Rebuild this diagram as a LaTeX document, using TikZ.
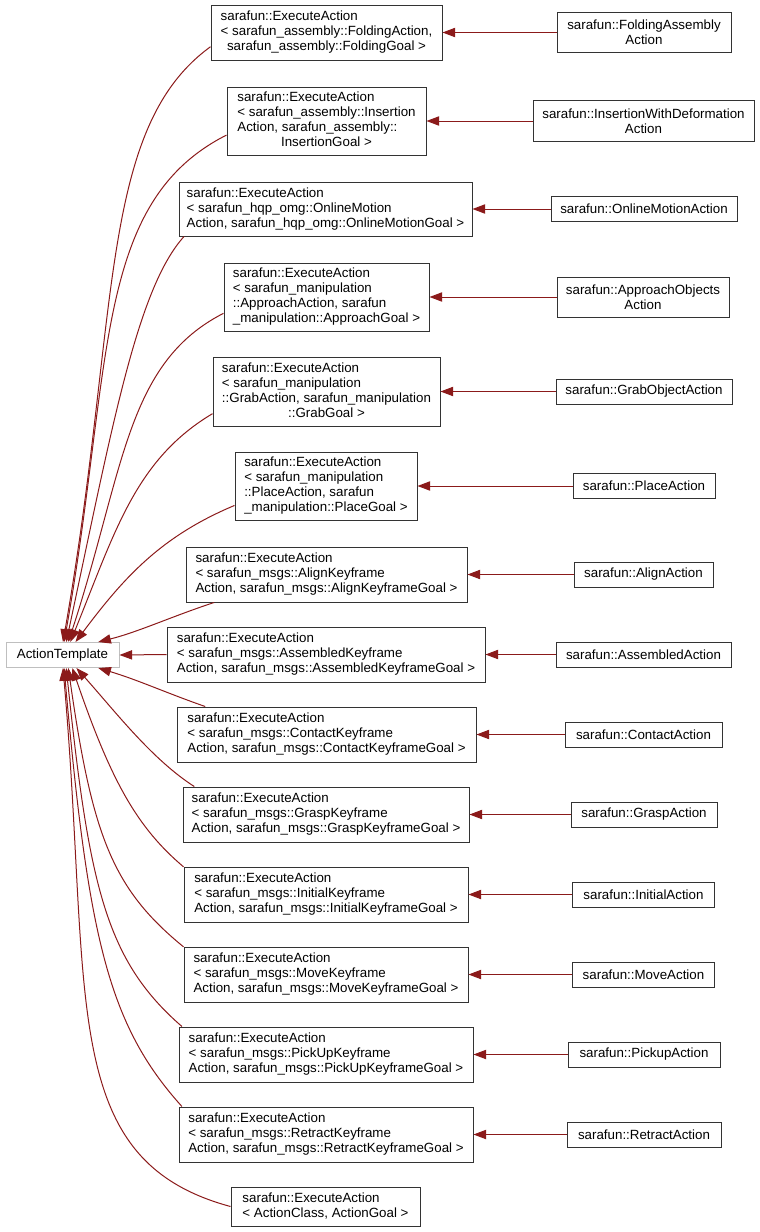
\documentclass[tikz,border=0pt]{standalone}
\usepackage{fontspec}
\setmainfont{Liberation Sans}
\usepackage{xcolor}
\usetikzlibrary{arrows.meta}
\definecolor{edgered}{HTML}{8B1A1A}
\definecolor{basegray}{HTML}{BFBFBF}
\newdimen\px \px=0.75pt
\newcommand{\cls}[1]{\begin{tabular}{@{}l@{}}#1\end{tabular}}
\newcommand{\lastline}[1]{\multicolumn{1}{@{}c@{}}{#1}}

\begin{document}
\begin{tikzpicture}[x=0.75pt, y=-0.75pt, font=\fontsize{10}{11.25}\selectfont,
    inner sep=0pt, line width=1\px,
    cls/.style={draw=black!80, fill=white},
    sub/.style={draw=black!80, fill=white, align=center, minimum height=25\px},
    base/.style={draw=basegray, fill=white, minimum height=25\px},
    inh/.style={draw=edgered, -{Triangle[length=9.5pt, width=7pt, fill=edgered]}}]
    \useasboundingbox (0,0) rectangle (760,1232);
    \node[base, minimum width=113\px] (at) at (62.5,655) {ActionTemplate};
    % template instances
    \node[cls, minimum width=231\px, minimum height=55\px] (m1) at (326.5,32.5)
      {\cls{sarafun::ExecuteAction\\ < sarafun\_assembly::FoldingAction,\\
        \lastline{sarafun\_assembly::FoldingGoal >}}};
    \node[cls, minimum width=199\px, minimum height=68\px] (m2) at (326.5,121)
      {\cls{sarafun::ExecuteAction\\ < sarafun\_assembly::Insertion\\
        Action, sarafun\_assembly::\\ \lastline{InsertionGoal >}}};
    \node[cls, minimum width=293\px, minimum height=54\px] (m3) at (325.5,209)
      {\cls{sarafun::ExecuteAction\\ < sarafun\_hqp\_omg::OnlineMotion\\
        Action, sarafun\_hqp\_omg::OnlineMotionGoal >}};
    \node[cls, minimum width=205\px, minimum height=68\px] (m4) at (326.5,297)
      {\cls{sarafun::ExecuteAction\\ < sarafun\_manipulation\\
        ::ApproachAction, sarafun\\ \_manipulation::ApproachGoal >}};
    \node[cls, minimum width=227\px, minimum height=69\px] (m5) at (326.5,391.5)
      {\cls{sarafun::ExecuteAction\\ < sarafun\_manipulation\\
        ::GrabAction, sarafun\_manipulation\\ \lastline{::GrabGoal >}}};
    \node[cls, minimum width=182\px, minimum height=68\px] (m6) at (326,486)
      {\cls{sarafun::ExecuteAction\\ < sarafun\_manipulation\\
        ::PlaceAction, sarafun\\ \_manipulation::PlaceGoal >}};
    \node[cls, minimum width=281\px, minimum height=55\px] (m7) at (326.5,574.5)
      {\cls{sarafun::ExecuteAction\\ < sarafun\_msgs::AlignKeyframe\\
        Action, sarafun\_msgs::AlignKeyframeGoal >}};
    \node[cls, minimum width=318\px, minimum height=55\px] (m8) at (326,654.5)
      {\cls{sarafun::ExecuteAction\\ < sarafun\_msgs::AssembledKeyframe\\
        Action, sarafun\_msgs::AssembledKeyframeGoal >}};
    \node[cls, minimum width=299\px, minimum height=55\px] (m9) at (326.5,734.5)
      {\cls{sarafun::ExecuteAction\\ < sarafun\_msgs::ContactKeyframe\\
        Action, sarafun\_msgs::ContactKeyframeGoal >}};
    \node[cls, minimum width=286\px, minimum height=55\px] (m10) at (326,814.5)
      {\cls{sarafun::ExecuteAction\\ < sarafun\_msgs::GraspKeyframe\\
        Action, sarafun\_msgs::GraspKeyframeGoal >}};
    \node[cls, minimum width=284\px, minimum height=55\px] (m11) at (326,894.5)
      {\cls{sarafun::ExecuteAction\\ < sarafun\_msgs::InitialKeyframe\\
        Action, sarafun\_msgs::InitialKeyframeGoal >}};
    \node[cls, minimum width=284\px, minimum height=55\px] (m12) at (326,974.5)
      {\cls{sarafun::ExecuteAction\\ < sarafun\_msgs::MoveKeyframe\\
        Action, sarafun\_msgs::MoveKeyframeGoal >}};
    \node[cls, minimum width=294\px, minimum height=55\px] (m13) at (326,1054.5)
      {\cls{sarafun::ExecuteAction\\ < sarafun\_msgs::PickUpKeyframe\\
        Action, sarafun\_msgs::PickUpKeyframeGoal >}};
    \node[cls, minimum width=294\px, minimum height=55\px] (m14) at (326,1134.5)
      {\cls{sarafun::ExecuteAction\\ < sarafun\_msgs::RetractKeyframe\\
        Action, sarafun\_msgs::RetractKeyframeGoal >}};
    \node[cls, minimum width=189\px, minimum height=39\px] (m15) at (325.5,1206.5)
      {\cls{sarafun::ExecuteAction\\ < ActionClass, ActionGoal >}};
    % derived classes
    \node[sub, minimum width=174\px, minimum height=40\px] (r1) at (644,32.5)
      {sarafun::FoldingAssembly\\ Action};
    \node[sub, minimum width=221\px, minimum height=41\px] (r2) at (643.5,121)
      {sarafun::InsertionWithDeformation\\ Action};
    \node[sub, minimum width=186\px] (r3) at (644,209) {sarafun::OnlineMotionAction};
    \node[sub, minimum width=172\px, minimum height=40\px] (r4) at (643,297)
      {sarafun::ApproachObjects\\ Action};
    \node[sub, minimum width=176\px] (r5) at (644,391.5) {sarafun::GrabObjectAction};
    \node[sub, minimum width=142\px] (r6) at (644,486) {sarafun::PlaceAction};
    \node[sub, minimum width=139\px] (r7) at (643.5,574.5) {sarafun::AlignAction};
    \node[sub, minimum width=175\px] (r8) at (643.5,654.5) {sarafun::AssembledAction};
    \node[sub, minimum width=157\px] (r9) at (643.5,734.5) {sarafun::ContactAction};
    \node[sub, minimum width=146\px] (r10) at (644,814.5) {sarafun::GraspAction};
    \node[sub, minimum width=142\px] (r11) at (643.5,894.5) {sarafun::InitialAction};
    \node[sub, minimum width=142\px] (r12) at (643.5,974.5) {sarafun::MoveAction};
    \node[sub, minimum width=152\px] (r13) at (644,1054.5) {sarafun::PickupAction};
    \node[sub, minimum width=154\px] (r14) at (644,1134.5) {sarafun::RetractAction};
    \foreach \i in {1,...,14}{
      \draw[inh] (r\i.west) -- (m\i.east);
    }
    % instances -> ActionTemplate
    \foreach \n/\a/\ax/\ay/\bx/\by/\t in {
        m1/187/-113/82/57/-325/88, m2/188/-134/68/49/-276/83,
        m3/191/-47/52/46/-215/74, m4/189/-98/50/56/-171/66,
        m5/191/-77/46/45/-111/59, m6/192/-74/31/48/-64/45,
        m7/194/-40/13/40/-10/20, m9/167/-40/-14/40/12/340,
        m10/168/-42/-27/40/45/317, m11/169/-46/-39/39/114/307,
        m12/169/-71/-58/24/168/294, m13/169/-76/-66/23/219/286,
        m14/169/-74/-82/24/269/277, m15/180/-174/-47/29/329/272}{
      \draw[inh] (\n.\a) .. controls +(\ax,\ay) and +(\bx,\by) .. (at.\t);
    }
    \draw[inh] (m8.west) -- (at.east);
\end{tikzpicture}
\end{document}
